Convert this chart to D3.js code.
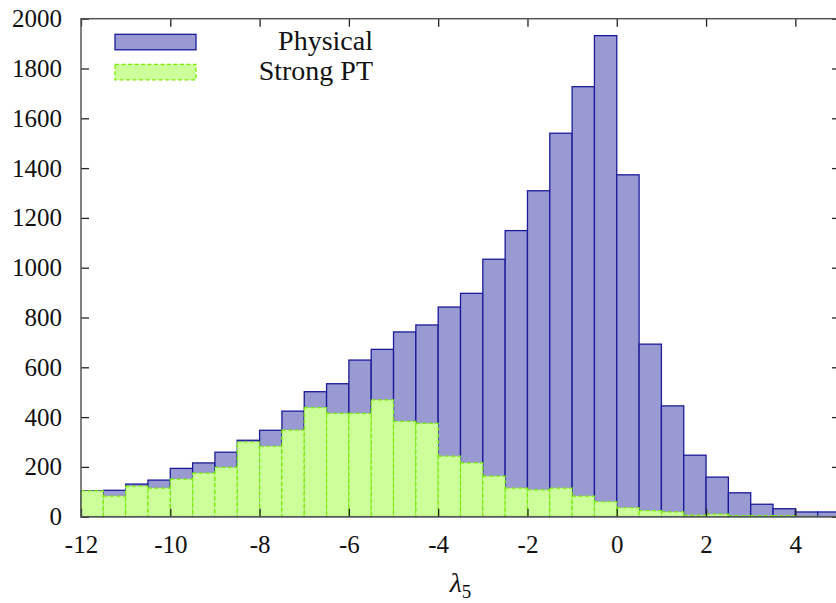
<!DOCTYPE html>
<html><head><meta charset="utf-8">
<script src="https://cdn.jsdelivr.net/npm/d3@7"></script>
<style>body{margin:0;background:#fff}svg{display:block;overflow:hidden}</style></head>
<body>
<script>
// ---- data ----
const binStarts = [-12,-11.5,-11,-10.5,-10,-9.5,-9,-8.5,-8,-7.5,-7,-6.5,-6,-5.5,-5,-4.5,-4,-3.5,-3,-2.5,-2,-1.5,-1,-0.5,0,0.5,1,1.5,2,2.5,3,3.5,4,4.5];
const binWidth = 0.5;
const physical = [104,106,131,147,194,216,259,307,347,424,502,534,629,672,742,770,842,897,1034,1149,1309,1540,1727,1932,1373,693,445,247,159,96,50,32,19,19];
const strongPT = [104,83,123,115,151,175,198,300,283,348,438,415,415,469,383,375,243,216,163,115,108,115,83,60,36,24,19,6,10,4,4,4,1,0];
const xTicks = [-12,-10,-8,-6,-4,-2,0,2,4];
const yTicks = [0,200,400,600,800,1000,1200,1400,1600,1800,2000];
const seriesNames = ["Physical","Strong PT"];

// ---- layout ----
const W = 836, H = 603;
const L = 81, R = 840, T = 18.7, B = 516.7;
const FONT = "Liberation Serif";
const blueFill = "#9a9ad2", blueStroke = "#1a1a9a";
const greenFill = "#ccff99", greenStroke = "#77ee00";

const x = d3.scaleLinear().domain([-12,5]).range([L,R]);
const y = d3.scaleLinear().domain([0,2000]).range([B,T]);

const svg = d3.select("body").append("svg").attr("width",W).attr("height",H);

// physical bars
svg.append("g").selectAll("rect").data(binStarts).join("rect")
  .attr("x", d => x(d)).attr("width", d => x(d+binWidth)-x(d))
  .attr("y", (d,i) => y(physical[i])).attr("height", (d,i) => y(0)-y(physical[i]))
  .attr("fill", blueFill).attr("stroke", blueStroke).attr("stroke-width", 1.3);

// strong PT bars
svg.append("g").selectAll("rect").data(binStarts.filter((d,i)=>strongPT[i]>0)).join("rect")
  .attr("x", d => x(d)).attr("width", d => x(d+binWidth)-x(d))
  .attr("y", d => y(strongPT[binStarts.indexOf(d)])).attr("height", d => y(0)-y(strongPT[binStarts.indexOf(d)]))
  .attr("fill", greenFill).attr("stroke", greenStroke).attr("stroke-width", 1.2)
  .attr("stroke-dasharray","4,2.5");

function styleAxis(g){
  g.attr("font-family", FONT).attr("font-size", 25);
  g.select(".domain").remove();
  g.selectAll(".tick line").attr("stroke","#222").attr("stroke-width",1.3);
  g.selectAll(".tick text").attr("fill","#111").attr("font-family", FONT);
}

svg.append("g").attr("transform",`translate(0,${B})`)
  .call(d3.axisBottom(x).tickValues(xTicks).tickSize(-8).tickPadding(18.5).tickFormat(d=>String(d)))
  .call(styleAxis);
svg.append("g").attr("transform",`translate(0,${T})`)
  .call(d3.axisTop(x).tickValues(xTicks).tickSize(-8).tickFormat(""))
  .call(styleAxis);
svg.append("g").attr("transform",`translate(${L},0)`)
  .call(d3.axisLeft(y).tickValues(yTicks).tickSize(-8).tickPadding(19).tickFormat(d=>String(d)))
  .call(styleAxis);
svg.append("g").attr("transform",`translate(${R},0)`)
  .call(d3.axisRight(y).tickValues(yTicks).tickSize(-8).tickFormat(""))
  .call(styleAxis);

// frame
svg.append("rect").attr("x",L).attr("y",T).attr("width",R-L).attr("height",B-T)
  .attr("fill","none").attr("stroke","#555").attr("stroke-width",1.5);

// legend
const leg = [
  {name: seriesNames[0], fill: blueFill, stroke: blueStroke, dash: null, y0: 34.3, base: 49.5},
  {name: seriesNames[1], fill: greenFill, stroke: greenStroke, dash: "4,2.5", y0: 64.3, base: 79.5}
];
leg.forEach(s => {
  svg.append("rect").attr("x",115).attr("y",s.y0).attr("width",81).attr("height",15.5)
    .attr("fill",s.fill).attr("stroke",s.stroke).attr("stroke-width",1.3)
    .attr("stroke-dasharray",s.dash);
  svg.append("text").attr("x",373).attr("y",s.base).attr("text-anchor","end")
    .attr("font-family",FONT).attr("font-size",28).attr("fill","#111").text(s.name);
});

// x label
const xl = svg.append("text").attr("x", x(-3.5)).attr("y", 592).attr("text-anchor","middle")
  .attr("font-family",FONT).attr("font-size",28).attr("fill","#111");
xl.append("tspan").attr("font-style","italic").text("λ");
xl.append("tspan").attr("dy",6).attr("font-size",19).text("5");
</script>
</body></html>
